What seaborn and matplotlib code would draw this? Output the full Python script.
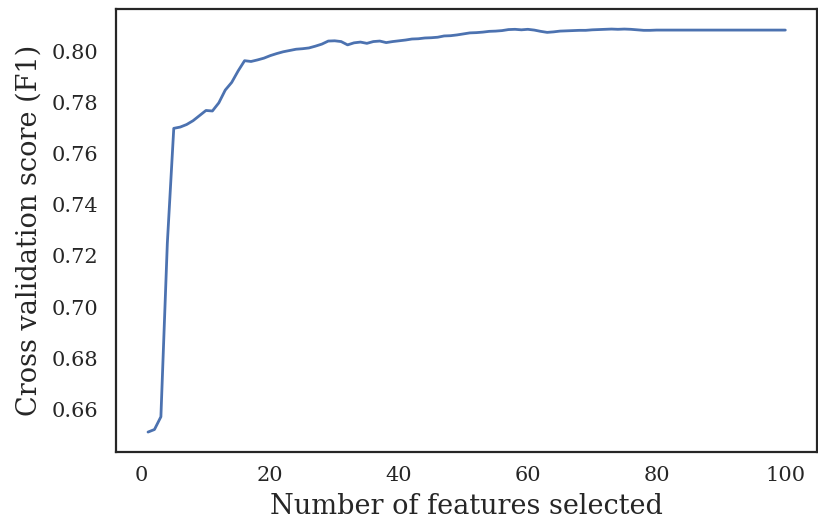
import matplotlib
matplotlib.use("Agg")
import matplotlib.pyplot as plt
import seaborn as sns
import pandas as pd

n_features = list(range(1, 101))
cv_scores = [
    0.651, 0.652, 0.657, 0.725, 0.770, 0.7705, 0.7715, 0.7730, 0.7750, 0.7770,
    0.7768, 0.7800, 0.7850, 0.7880, 0.7925, 0.7965, 0.7962, 0.7968, 0.7975, 0.7985,
    0.7993, 0.8000, 0.8005, 0.8010, 0.8012, 0.8015, 0.8022, 0.8030, 0.8042, 0.8043,
    0.8040, 0.8027, 0.8035, 0.8038, 0.8033, 0.8040, 0.8042, 0.8036, 0.8040, 0.8043,
    0.8046, 0.8050, 0.8051, 0.8054, 0.8055, 0.8057, 0.8062, 0.8063, 0.8066, 0.8070,
    0.8074, 0.8075, 0.8077, 0.8080, 0.8081, 0.8083, 0.8087, 0.8088, 0.8086, 0.8088,
    0.8085, 0.8080, 0.8076, 0.8078, 0.8081, 0.8082, 0.8083, 0.8084, 0.8084, 0.8086,
    0.8087, 0.8088, 0.8089, 0.8088, 0.8089, 0.8088, 0.8086, 0.8084, 0.8084, 0.8085,
    0.8085, 0.8085, 0.8085, 0.8085, 0.8085, 0.8085, 0.8085, 0.8085, 0.8085, 0.8085,
    0.8085, 0.8085, 0.8085, 0.8085, 0.8085, 0.8085, 0.8085, 0.8085, 0.8085, 0.8085,
]
x_label = "Number of features selected"
y_label = "Cross validation score (F1)"

df = pd.DataFrame({"n": n_features, "score": cv_scores})

sns.set_theme(style="white")
plt.rcParams["font.family"] = ["DejaVu Serif"]

fig = plt.figure(figsize=(8.18, 5.24), dpi=100)
ax = fig.add_axes([0.142, 0.137, 0.857, 0.846])
sns.lineplot(data=df, x="n", y="score", ax=ax, color="#4c72b0", linewidth=2.0)

ax.set_xlabel(x_label, fontsize=19.5, labelpad=6)
ax.set_ylabel(y_label, fontsize=19.5, labelpad=6)
ax.tick_params(axis="x", labelsize=15, pad=4)
ax.tick_params(axis="y", labelsize=15, pad=7)
ax.set_yticks([0.66, 0.68, 0.70, 0.72, 0.74, 0.76, 0.78, 0.80])
ax.set_xticks([0, 20, 40, 60, 80, 100])
for s in ax.spines.values():
    s.set_color("#262626")
    s.set_linewidth(1.6)

fig.savefig("out.png", dpi=100)
